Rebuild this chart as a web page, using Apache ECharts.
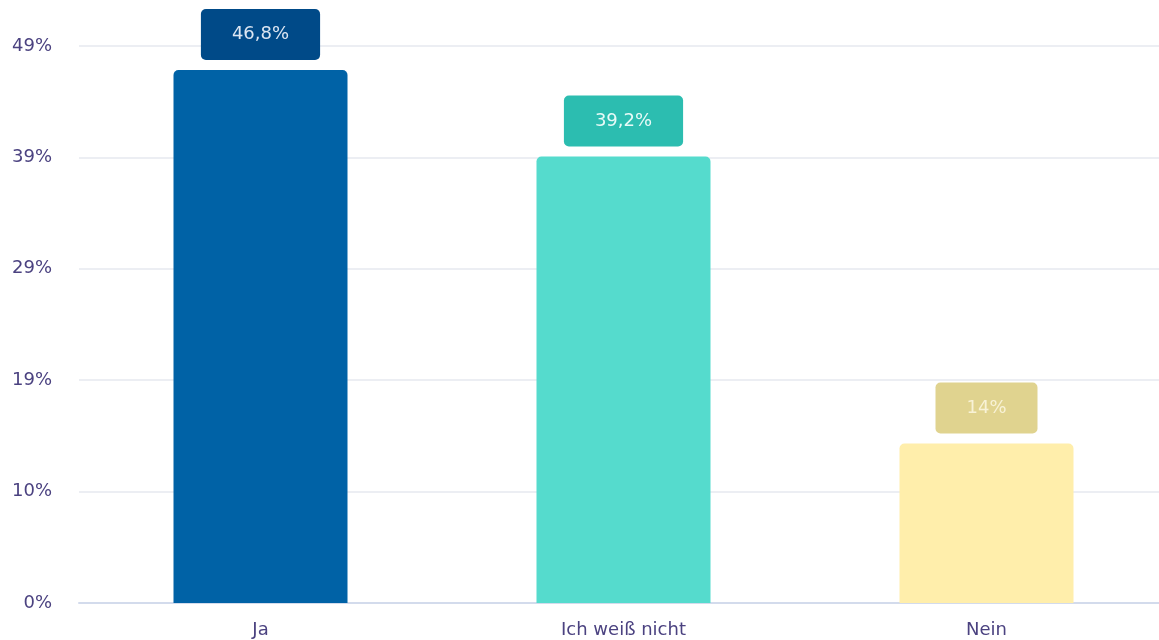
<!DOCTYPE html>
<html>
<head>
<meta charset="utf-8">
<script src="https://cdn.jsdelivr.net/npm/echarts@6/dist/echarts.min.js"></script>
<style>html,body{margin:0;padding:0;background:#fff;}#c{width:1159px;height:640px;}</style>
</head>
<body>
<div id="c"></div>
<script>
const categories = ['Ja', 'Ich weiß nicht', 'Nein'];
const values = [46.8, 39.2, 14];
const tickLabels = ['0%', '10%', '19%', '29%', '39%', '49%'];
const axisMax = 48.9;
const axisInterval = axisMax / 5;

const barColors = ['#0062a6', '#55dbcd', '#ffeeab'];
const labelBg = ['#004a88', '#2cbdb0', '#e0d38f'];
const labelText = ['#dce6f2', '#e8faf7', '#f8f2d6'];
const font = '"DejaVu Sans", sans-serif';

const chart = echarts.init(document.getElementById('c'));
chart.setOption({
  animation: false,
  grid: { left: 79, width: 1089, top: 46, bottom: 37, outerBoundsMode: 'none', containLabel: false },
  xAxis: {
    type: 'category',
    data: categories,
    axisTick: { show: false },
    axisLine: { lineStyle: { color: '#d3dbec', width: 2 } },
    axisLabel: { color: '#4b4280', fontSize: 18, fontFamily: font, margin: 18 }
  },
  yAxis: {
    type: 'value',
    min: 0,
    max: axisMax,
    interval: axisInterval,
    axisLabel: {
      color: '#4b4280', fontSize: 18, fontFamily: font, margin: 27,
      formatter: (v, idx) => tickLabels[idx]
    },
    splitLine: { lineStyle: { color: '#e6e9ef', width: 1.5 } }
  },
  series: [{
    type: 'bar',
    barWidth: 174,
    data: values.map((v, i) => ({
      value: v,
      itemStyle: { color: barColors[i], borderRadius: [5, 5, 0, 0] },
      label: {
        show: true,
        position: 'top',
        distance: 10,
        backgroundColor: labelBg[i],
        color: labelText[i],
        borderRadius: 5,
        padding: [16, 31, 16, 31],
        fontSize: 18,
        lineHeight: 19,
        fontFamily: font,
        formatter: p => String(p.value).replace('.', ',') + '%'
      }
    }))
  }]
});
</script>
</body>
</html>
